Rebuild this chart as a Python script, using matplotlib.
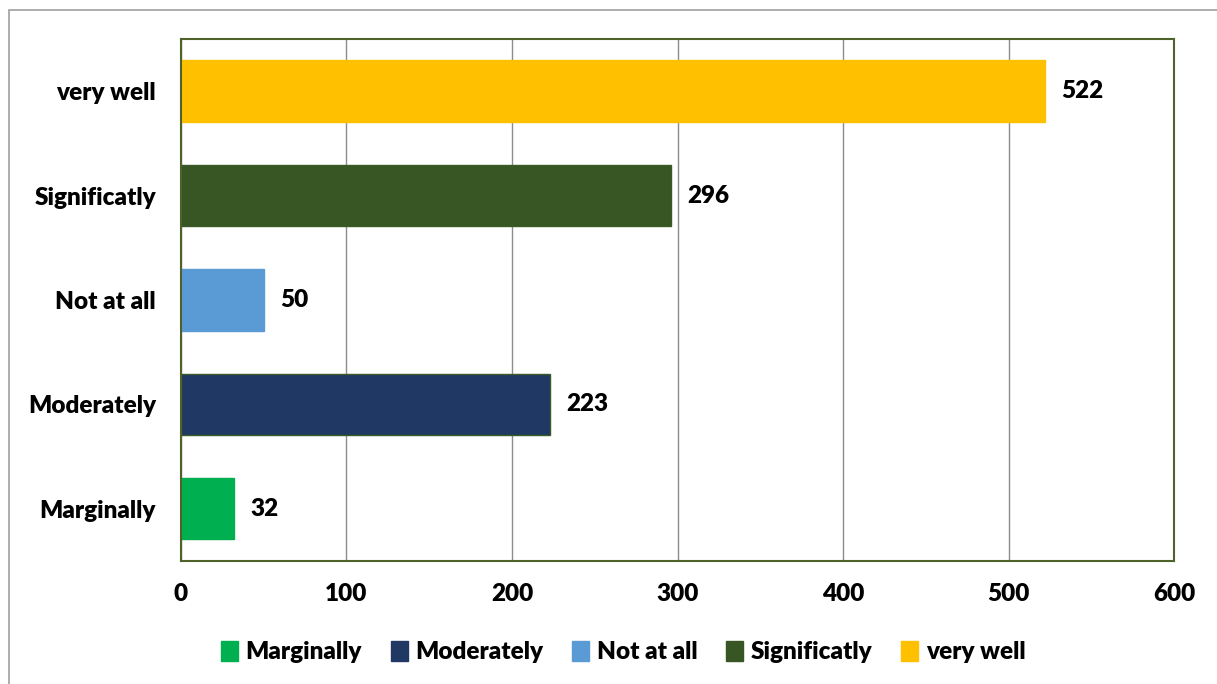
from matplotlib import pyplot as plt
from matplotlib.patches import Rectangle, Patch

categories = ['Marginally', 'Moderately', 'Not at all', 'Significatly', 'very well']
values = [32, 223, 50, 296, 522]
colors = ['#00B050', '#203864', '#5B9BD5', '#375623', '#FFC000']
xticks = [0, 100, 200, 300, 400, 500, 600]

plt.rcParams['font.family'] = ['Lato', 'DejaVu Sans']
plt.rcParams['font.weight'] = 'heavy'
fs = 17.5

fig = plt.figure(figsize=(12.17, 6.84), dpi=100)
ax = fig.add_axes([0.1487, 0.180, 0.8160, 0.763])

# cadre gris autour du graphique
fig.patches.append(Rectangle((0.0074, -0.01), 1.0, 0.995, transform=fig.transFigure,
                             fill=False, edgecolor='#a0a0a0', linewidth=1.2))

y = list(range(len(categories)))
bars = ax.barh(y, values, height=0.59, color=colors, edgecolor='#3c5a28', linewidth=1.0)
for b, c in zip(bars, colors):
    if c in ('#00B050', '#5B9BD5', '#FFC000'):
        b.set_edgecolor(c)

for yi, v in zip(y, values):
    ax.text(v + 10, yi, str(v), va='center', ha='left', fontsize=fs, fontweight='heavy')

ax.set_xlim(0, 600)
ax.set_ylim(-0.5, 4.5)
ax.set_xticks(xticks)
ax.set_yticks(y)
ax.set_yticklabels(categories)
ax.tick_params(axis='both', length=0, labelsize=fs)
ax.tick_params(axis='x', pad=16)
ax.tick_params(axis='y', pad=18)
for lbl in ax.get_xticklabels() + ax.get_yticklabels():
    lbl.set_fontweight('heavy')

ax.xaxis.grid(True, color='#8c8c8c', linewidth=1.0)
ax.set_axisbelow(True)
for s in ax.spines.values():
    s.set_color('#4f6228')
    s.set_linewidth(1.5)

handles = [Patch(facecolor=c, edgecolor=c) for c in colors]
fig.legend(handles, categories, loc='center', bbox_to_anchor=(0.512, 0.047), ncol=5,
           frameon=False, handlelength=0.7, handleheight=0.9,
           handletextpad=0.3, columnspacing=1.2, prop={'weight': 'heavy', 'size': fs})

fig.savefig('out.png', dpi=100)
